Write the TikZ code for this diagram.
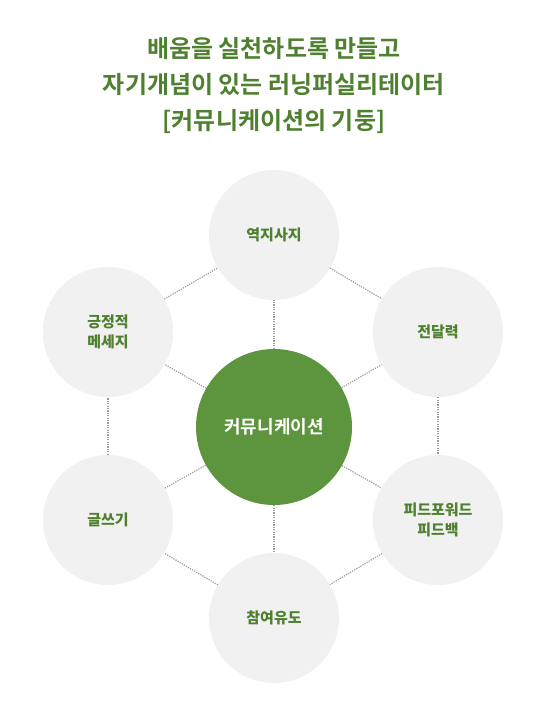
\documentclass[tikz,border=0pt]{standalone}
\usepackage{fontspec}
\setmainfont{Noto Sans CJK KR}
\newfontfamily\krbold{Noto Sans CJK KR Bold}
\definecolor{commgreen}{RGB}{93,149,63}
\definecolor{commtext}{RGB}{78,128,48}
\definecolor{commgray}{RGB}{241,241,241}
\definecolor{commline}{RGB}{155,155,155}
\usepackage{tikz}
\usetikzlibrary{positioning}

\tikzset{
  hub/.style={circle, fill=commgreen, minimum size=156, inner sep=0pt,
    text=white, font=\krbold\fontsize{18}{20}\selectfont},
  pillar/.style={circle, fill=commgray, minimum size=130, inner sep=0pt,
    text=commtext, align=center, font=\fontsize{15}{20}\selectfont\bfseries},
  link/.style={draw=commline, line width=1.2pt, dash pattern=on 1.2pt off 1.2pt}
}

\begin{document}
\begin{tikzpicture}[x=1pt, y=-1pt]
        \useasboundingbox (0,0) rectangle (555,720);
        % title
        \node[text=commtext, align=center, font=\krbold\fontsize{24}{36}\selectfont] (title) at (274,86)
          {배움을 실천하도록 만들고\\자기개념이 있는 러닝퍼실리테이터\\{[}커뮤니케이션의 기둥{]}};
        % hub and pillars
        \node[hub]    (hub)   at (274,427) {커뮤니케이션};
        \node[pillar] (top)   at (274,235) {역지사지};
        \node[pillar] (ru)    at (438,332) {전달력};
        \node[pillar] (rd)    at (438,520) {피드포워드\\피드백};
        \node[pillar] (bot)   at (274,618) {참여유도};
        \node[pillar] (ld)    at (108,520) {글쓰기};
        \node[pillar] (lu)    at (108,332) {긍정적\\메세지};
        % spokes
        \foreach \p in {top,ru,rd,bot,ld,lu}
          \draw[link] (hub) -- (\p);
        % ring
        \draw[link] (top) -- (ru);
        \draw[link] (ru)  -- (rd);
        \draw[link] (rd)  -- (bot);
        \draw[link] (bot) -- (ld);
        \draw[link] (ld)  -- (lu);
        \draw[link] (lu)  -- (top);
      \end{tikzpicture}
\end{document}
